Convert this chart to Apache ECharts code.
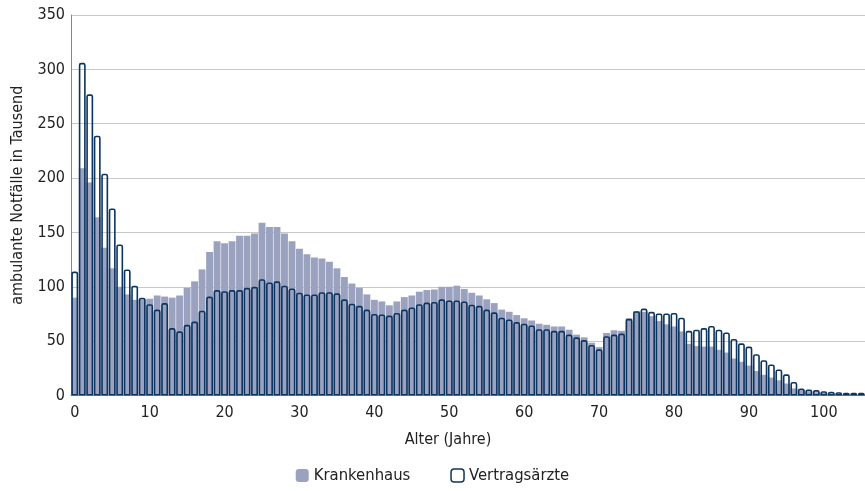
<!DOCTYPE html>
<html>
<head>
<meta charset="utf-8">
<script src="https://cdn.jsdelivr.net/npm/echarts@6/dist/echarts.min.js"></script>
<style>
html,body{margin:0;padding:0;background:#fff;}
#chart{width:865px;height:491px;}
</style>
</head>
<body>
<div id="chart"></div>
<script>
const ages = [];
for (let a = 0; a <= 105; a++) ages.push(String(a));

const krankenhaus = [
  90, 209, 196, 164, 136, 117, 100, 93, 88, 88.5,
  89, 92, 91, 90, 92, 99, 105, 116, 132, 142,
  140, 142, 147, 147, 149, 159, 155, 155, 149, 142,
  135, 130, 127, 126, 123, 117, 109, 103, 99, 93,
  88, 86.5, 83, 86.5, 90.5, 92, 95.5, 97, 97.5, 100,
  100, 101, 98, 94.5, 92, 88.5, 85, 79, 77, 74,
  71, 69, 66, 65, 63.5, 63.5, 60.5, 56, 53.5, 48.5,
  44.5, 57.5, 60, 59.5, 71, 77.5, 77, 73, 68.5, 65.5,
  63.5, 59, 47.5, 45.5, 45, 45, 42, 39.5, 34, 31,
  27.5, 22.5, 19, 16.5, 14, 11, 6.5, 5, 4, 3,
  2.5, 2, 1.5, 1.5, 1.5, 1.5
];

const vertragsaerzte = [
  114, 306, 277, 239, 204, 172, 139, 116, 101, 90,
  84, 79, 85, 62, 59, 65, 68, 78, 91, 97,
  96, 97, 97, 99, 100, 107, 104, 105, 101, 98.5,
  94.5, 93, 93, 95, 95, 94, 88.5, 84.5, 82.5, 79,
  75, 74.5, 73.5, 76, 79, 81, 84, 85.5, 86, 88.5,
  87.5, 87.5, 86.5, 83.5, 82.5, 79, 76.5, 71.5, 70, 67.5,
  66, 64.5, 61, 61, 59.5, 59.5, 56, 53.5, 51, 46.5,
  42.5, 54.5, 56, 57, 70.5, 77.5, 80, 77, 75.5, 75.5,
  76, 71.5, 59.5, 60.5, 62, 64, 60.5, 58, 52, 48,
  45, 38, 32.5, 28.5, 24, 19.5, 12.5, 6.5, 5.5, 5,
  4, 3.5, 3, 2.5, 2.5, 2.5
];

const yTicks = [0, 50, 100, 150, 200, 250, 300, 350];

const FONT = '"DejaVu Sans Condensed", "DejaVu Sans", sans-serif';
const chart = echarts.init(document.getElementById('chart'), null, {renderer: 'canvas'});
chart.setOption({
  animation: false,
  backgroundColor: '#ffffff',
  textStyle: {fontFamily: FONT},
  grid: {left: 71, right: 0, top: 15, bottom: 95.5, containLabel: false},
  legend: {
    bottom: 2,
    left: 'center',
    itemWidth: 13,
    itemHeight: 13,
    itemGap: 40,
    textStyle: {fontFamily: FONT, fontSize: 16.5, color: '#222'},
    data: [
      {name: 'Krankenhaus', icon: 'roundRect', itemStyle: {color: '#9aa2bf', borderWidth: 0}},
      {name: 'Vertragsärzte', icon: 'roundRect', itemStyle: {color: '#ffffff', borderColor: '#0c3461', borderWidth: 1.5}}
    ]
  },
  xAxis: {
    type: 'category',
    data: ages,
    name: 'Alter (Jahre)',
    nameLocation: 'middle',
    nameGap: 36,
    nameTextStyle: {fontFamily: FONT, fontSize: 16, color: '#222', padding: [0, 40, 0, 0]},
    axisLine: {show: true, lineStyle: {color: '#999', width: 1}},
    axisTick: {show: false},
    axisLabel: {
      interval: 9,
      margin: 9,
      fontFamily: FONT, fontSize: 16, color: '#222'
    },
    splitLine: {show: false}
  },
  yAxis: {
    type: 'value',
    min: 0,
    max: 350,
    interval: 50,
    name: 'ambulante Notfälle in Tausend',
    nameLocation: 'middle',
    nameGap: 45,
    nameTextStyle: {fontFamily: FONT, fontSize: 16, color: '#222', padding: [0, 0, 0, 20]},
    axisLine: {show: true, lineStyle: {color: '#888', width: 1}},
    axisTick: {show: false},
    axisLabel: {margin: 6, fontFamily: FONT, fontSize: 16, color: '#222',
      formatter: function (v) { return yTicks.indexOf(v) >= 0 ? String(v) : ''; }},
    splitLine: {show: true, lineStyle: {color: '#c8c8c8', width: 1}}
  },
  series: [
    {
      name: 'Krankenhaus',
      type: 'bar',
      data: krankenhaus,
      barCategoryGap: '8%',
      barGap: '-100%',
      itemStyle: {color: '#9aa2bf'},
      z: 2
    },
    {
      name: 'Vertragsärzte',
      type: 'bar',
      data: vertragsaerzte,
      barCategoryGap: '8%',
      barGap: '-100%',
      itemStyle: {color: 'rgba(255,255,255,0)', borderColor: '#0c3461', borderWidth: 1.6, borderRadius: [1.5, 1.5, 0, 0]},
      z: 3
    }
  ]
});
</script>
</body>
</html>
